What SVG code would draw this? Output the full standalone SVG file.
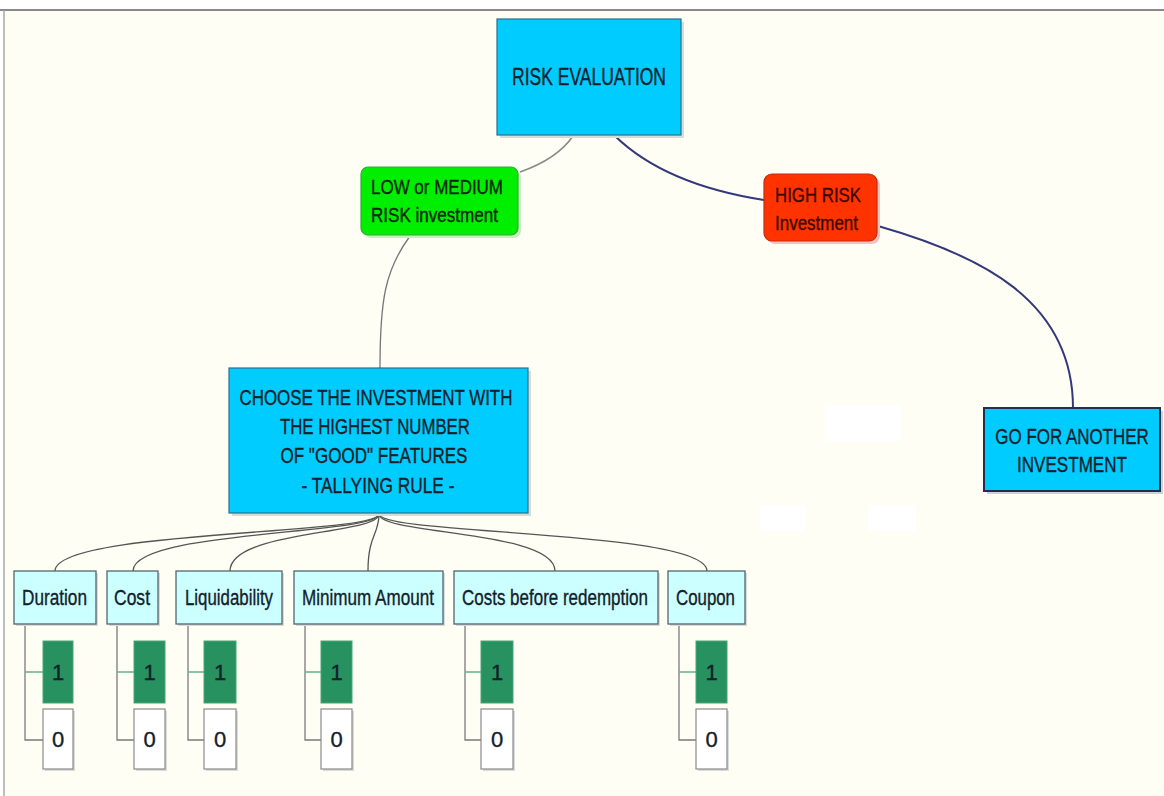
<svg xmlns="http://www.w3.org/2000/svg" width="1164" height="796" viewBox="0 0 1164 796">
<defs>
<style>
.t{font-family:"Liberation Sans",Arial,sans-serif;fill:#14202a;stroke:#14202a;stroke-width:0.35;}
.cyan{fill:#00CCFF;stroke:#2b6f8a;stroke-width:1.2;}
.feat{fill:#CCFFFF;stroke:#55656f;stroke-width:1.3;}
.one{fill:#27915F;stroke:#4aa57a;stroke-width:1;}
.zero{fill:#FFFFFF;stroke:#8a8a8a;stroke-width:1.2;}
.sh{fill:#d8dcd8;}
.tree{stroke:#7a7a7a;stroke-width:1.3;fill:none;}
.treeg{stroke:#6bb592;stroke-width:1.6;fill:none;}
.fan{stroke:#555;stroke-width:1.3;fill:none;}
</style>
</defs>
<rect x="0" y="0" width="1164" height="796" fill="#FFFFFF"/>
<rect x="4" y="10" width="1160" height="786" fill="#FEFEF5"/>
<line x1="0" y1="10" x2="1164" y2="10" stroke="#8a8a8a" stroke-width="2.2"/>
<line x1="4" y1="10" x2="4" y2="796" stroke="#9a9a9a" stroke-width="1.3"/>
<rect x="825" y="405" width="76" height="36" fill="#FFFFFF"/>
<rect x="760" y="505" width="46" height="26" fill="#FFFFFF"/>
<rect x="868" y="505" width="48" height="26" fill="#FFFFFF"/>

<g id="connectors">
<path d="M573,136 C560,155 540,165 520,172" stroke="#8a8a8a" stroke-width="1.6" fill="none"/>
<path d="M615,136 C650,170 700,190 764,200" stroke="#33387a" stroke-width="2" fill="none"/>
<path d="M878,226 C980,255 1073,300 1073,408" stroke="#33387a" stroke-width="2" fill="none"/>
<path d="M410,236 C385,270 380,300 380,368" stroke="#777" stroke-width="1.3" fill="none"/>
<path class="fan" d="M379,514 C379,535 55,530 55,571"/>
<path class="fan" d="M379,514 C379,535 133,530 133,571"/>
<path class="fan" d="M379,514 C379,535 230,530 230,571"/>
<path class="fan" d="M379,514 C379,535 368,535 368,571"/>
<path class="fan" d="M379,514 C379,535 555,530 555,571"/>
<path class="fan" d="M379,514 C379,535 707,530 707,571"/>
<path class="tree" d="M25,624 V740 H43"/><path class="treeg" d="M25,672 H43"/>
<path class="tree" d="M117,624 V740 H134"/><path class="treeg" d="M117,672 H134"/>
<path class="tree" d="M188,624 V740 H204"/><path class="treeg" d="M188,672 H204"/>
<path class="tree" d="M305,624 V740 H321"/><path class="treeg" d="M305,672 H321"/>
<path class="tree" d="M465,624 V740 H481"/><path class="treeg" d="M465,672 H481"/>
<path class="tree" d="M679,624 V740 H696"/><path class="treeg" d="M679,672 H696"/>
</g>

<g id="risk-evaluation">
<rect class="sh" x="500" y="22" width="184" height="116"/>
<rect class="cyan" x="497" y="19" width="184" height="116"/>
<text class="t" x="589" y="85" font-size="24" text-anchor="middle" textLength="154" lengthAdjust="spacingAndGlyphs">RISK EVALUATION</text>
</g>

<g id="low-medium">
<rect x="364" y="170" width="157" height="68" rx="7" fill="#c6f0c0"/>
<rect x="361" y="167" width="157" height="68" rx="7" fill="#00EE00" stroke="#3aa83a" stroke-width="1.2"/>
<text class="t" font-size="21" style="fill:#0a250a;stroke:#0a250a"><tspan x="371" y="194" textLength="132" lengthAdjust="spacingAndGlyphs">LOW or MEDIUM</tspan><tspan x="371" y="222" textLength="127" lengthAdjust="spacingAndGlyphs">RISK investment</tspan></text>
</g>

<g id="high-risk">
<rect x="767" y="177" width="113" height="67" rx="8" fill="#f2c4c0"/>
<rect x="764" y="174" width="113" height="67" rx="8" fill="#FF3300" stroke="#c82a10" stroke-width="1.2"/>
<text class="t" font-size="21" style="fill:#3a0800;stroke:#3a0800"><tspan x="775" y="202" textLength="86" lengthAdjust="spacingAndGlyphs">HIGH RISK</tspan><tspan x="775" y="230" textLength="83" lengthAdjust="spacingAndGlyphs">Investment</tspan></text>
</g>

<g id="go-for-another">
<rect x="987" y="411" width="176" height="83" fill="#c8d4dc"/>
<rect x="984" y="408" width="176" height="83" fill="#00CCFF" stroke="#22304a" stroke-width="2"/>
<text class="t" font-size="22" text-anchor="middle" transform="translate(1072,444) scale(0.77,1)">GO FOR ANOTHER</text>
<text class="t" font-size="22" text-anchor="middle" transform="translate(1072,472) scale(0.776,1)">INVESTMENT</text>
</g>

<g id="choose">
<rect class="sh" x="232" y="371" width="299" height="145"/>
<rect class="cyan" x="229" y="368" width="299" height="145"/>
<text class="t" font-size="22" text-anchor="middle">
<tspan x="379" y="405" textLength="273" lengthAdjust="spacingAndGlyphs">CHOOSE THE INVESTMENT WITH</tspan>
<tspan x="378" y="434" textLength="190" lengthAdjust="spacingAndGlyphs">THE HIGHEST NUMBER</tspan>
<tspan x="377" y="463" textLength="187" lengthAdjust="spacingAndGlyphs">OF "GOOD" FEATURES</tspan>
<tspan x="378" y="493" textLength="153" lengthAdjust="spacingAndGlyphs">- TALLYING RULE -</tspan>
</text>
</g>

<g id="duration">
<rect class="sh" x="16" y="573" width="82" height="53"/>
<rect class="feat" x="14" y="571" width="82" height="53"/>
<text class="t" x="22" y="605" font-size="22" textLength="65" lengthAdjust="spacingAndGlyphs">Duration</text>
</g>
<g id="cost">
<rect class="sh" x="109" y="573" width="51" height="53"/>
<rect class="feat" x="107" y="571" width="51" height="53"/>
<text class="t" x="114" y="605" font-size="22" textLength="36" lengthAdjust="spacingAndGlyphs">Cost</text>
</g>
<g id="liquidability">
<rect class="sh" x="178" y="573" width="106" height="53"/>
<rect class="feat" x="176" y="571" width="106" height="53"/>
<text class="t" x="185" y="605" font-size="22" textLength="88" lengthAdjust="spacingAndGlyphs">Liquidability</text>
</g>
<g id="minimum-amount">
<rect class="sh" x="296" y="573" width="149" height="53"/>
<rect class="feat" x="294" y="571" width="149" height="53"/>
<text class="t" x="302" y="605" font-size="22" textLength="132" lengthAdjust="spacingAndGlyphs">Minimum Amount</text>
</g>
<g id="costs-before-redemption">
<rect class="sh" x="456" y="573" width="204" height="53"/>
<rect class="feat" x="454" y="571" width="204" height="53"/>
<text class="t" font-size="22" transform="translate(462,605) scale(0.772,1)">Costs before redemption</text>
</g>
<g id="coupon">
<rect class="sh" x="670" y="573" width="77" height="53"/>
<rect class="feat" x="668" y="571" width="77" height="53"/>
<text class="t" x="676" y="605" font-size="22" textLength="59" lengthAdjust="spacingAndGlyphs">Coupon</text>
</g>

<g id="duration-1"><rect class="one" x="43" y="641" width="30" height="62"/><text class="t" x="58" y="680" font-size="22" text-anchor="middle">1</text></g>
<g id="duration-0"><rect class="sh" x="45" y="711" width="30" height="60"/><rect class="zero" x="43" y="709" width="30" height="60"/><text class="t" x="58" y="747" font-size="22" text-anchor="middle">0</text></g>
<g id="cost-1"><rect class="one" x="134" y="641" width="31" height="62"/><text class="t" x="149.5" y="680" font-size="22" text-anchor="middle">1</text></g>
<g id="cost-0"><rect class="sh" x="136" y="711" width="31" height="60"/><rect class="zero" x="134" y="709" width="31" height="60"/><text class="t" x="149.5" y="747" font-size="22" text-anchor="middle">0</text></g>
<g id="liquidability-1"><rect class="one" x="204" y="641" width="32" height="62"/><text class="t" x="220" y="680" font-size="22" text-anchor="middle">1</text></g>
<g id="liquidability-0"><rect class="sh" x="206" y="711" width="32" height="60"/><rect class="zero" x="204" y="709" width="32" height="60"/><text class="t" x="220" y="747" font-size="22" text-anchor="middle">0</text></g>
<g id="minimum-1"><rect class="one" x="321" y="641" width="31" height="62"/><text class="t" x="336.5" y="680" font-size="22" text-anchor="middle">1</text></g>
<g id="minimum-0"><rect class="sh" x="323" y="711" width="31" height="60"/><rect class="zero" x="321" y="709" width="31" height="60"/><text class="t" x="336.5" y="747" font-size="22" text-anchor="middle">0</text></g>
<g id="costs-before-1"><rect class="one" x="481" y="641" width="32" height="62"/><text class="t" x="497" y="680" font-size="22" text-anchor="middle">1</text></g>
<g id="costs-before-0"><rect class="sh" x="483" y="711" width="32" height="60"/><rect class="zero" x="481" y="709" width="32" height="60"/><text class="t" x="497" y="747" font-size="22" text-anchor="middle">0</text></g>
<g id="coupon-1"><rect class="one" x="696" y="641" width="31" height="62"/><text class="t" x="711.5" y="680" font-size="22" text-anchor="middle">1</text></g>
<g id="coupon-0"><rect class="sh" x="698" y="711" width="31" height="60"/><rect class="zero" x="696" y="709" width="31" height="60"/><text class="t" x="711.5" y="747" font-size="22" text-anchor="middle">0</text></g>
</svg>
